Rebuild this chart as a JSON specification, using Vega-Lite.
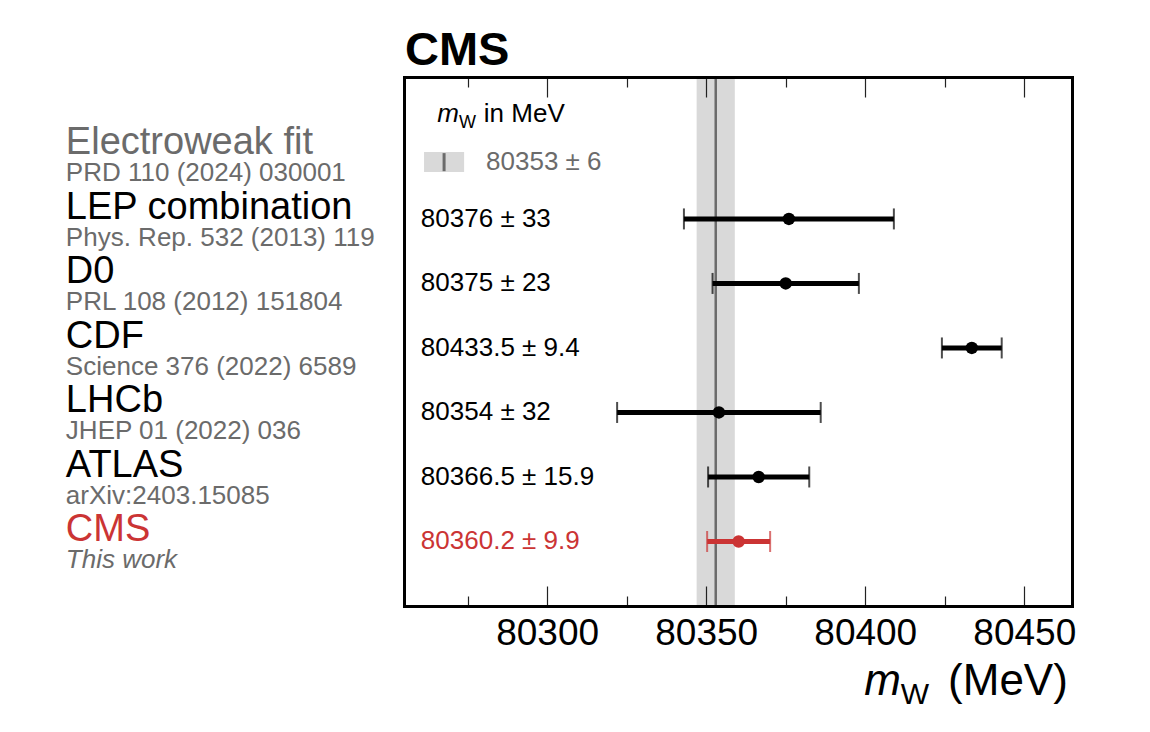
{
  "$schema": "https://vega.github.io/schema/vega-lite/v6.json",
  "width": 668,
  "height": 529,
  "autosize": "none",
  "padding": {"left": 404, "top": 77, "right": 78, "bottom": 126},
  "background": "white",
  "config": {
    "view": {"stroke": null},
    "font": "Liberation Sans",
    "text": {"font": "Liberation Sans"}
  },
  "datasets": {
    "rows": [
      {"experiment": "Electroweak fit", "reference": "PRD 110 (2024) 030001", "row": 0, "mw": 80353, "lo": 80347, "hi": 80359, "result": "80353 ± 6", "group": "ew"},
      {"experiment": "LEP combination", "reference": "Phys. Rep. 532 (2013) 119", "row": 1, "mw": 80376, "lo": 80343, "hi": 80409, "result": "80376 ± 33", "group": "other"},
      {"experiment": "D0", "reference": "PRL 108 (2012) 151804", "row": 2, "mw": 80375, "lo": 80352, "hi": 80398, "result": "80375 ± 23", "group": "other"},
      {"experiment": "CDF", "reference": "Science 376 (2022) 6589", "row": 3, "mw": 80433.5, "lo": 80424.1, "hi": 80442.9, "result": "80433.5 ± 9.4", "group": "other"},
      {"experiment": "LHCb", "reference": "JHEP 01 (2022) 036", "row": 4, "mw": 80354, "lo": 80322, "hi": 80386, "result": "80354 ± 32", "group": "other"},
      {"experiment": "ATLAS", "reference": "arXiv:2403.15085", "row": 5, "mw": 80366.5, "lo": 80350.6, "hi": 80382.4, "result": "80366.5 ± 15.9", "group": "other"},
      {"experiment": "CMS", "reference": "This work", "row": 6, "mw": 80360.2, "lo": 80350.3, "hi": 80370.1, "result": "80360.2 ± 9.9", "group": "cms"}
    ]
  },
  "data": {"name": "rows"},
  "resolve": {"axis": {"x": "independent", "y": "independent"}},
  "layer": [
    {
      "transform": [{"filter": "datum.group === 'ew'"}],
      "mark": {"type": "rect", "color": "#d9d9d9"},
      "encoding": {
        "x": {"field": "lo", "type": "quantitative", "axis": null,
              "scale": {"domain": [80255, 80465], "nice": false, "zero": false}},
        "x2": {"field": "hi"}
      }
    },
    {
      "transform": [{"filter": "datum.group === 'ew'"}],
      "mark": {"type": "rule", "color": "#6b6b6b", "strokeWidth": 2.5},
      "encoding": {
        "x": {"field": "mw", "type": "quantitative", "axis": null}
      }
    },
    {
      "transform": [{"filter": "datum.group !== 'ew'"}],
      "mark": {"type": "rule", "strokeWidth": 5},
      "encoding": {
        "x": {"field": "lo", "type": "quantitative",
              "axis": {"orient": "bottom", "title": null, "values": [80275, 80300, 80325, 80350, 80375, 80400, 80425, 80450],
                       "format": "d",
                       "labelExpr": "datum.value % 50 === 0 ? datum.label : ''",
                       "tickSize": {"condition": {"test": "datum.value % 50 === 0", "value": -20}, "value": -10},
                       "tickColor": "#222", "tickWidth": 1.2, "domainColor": "black", "domainWidth": 3, "domainCap": "square",
                       "labelFontSize": 37, "labelColor": "black", "labelPadding": 29, "grid": false, "zindex": 1, "labelFlush": false}},
        "x2": {"field": "hi"},
        "y": {"field": "row", "type": "quantitative",
              "scale": {"domain": [-1.2, 7], "reverse": true, "nice": false, "zero": false},
              "axis": {"orient": "left", "title": null, "labels": false, "ticks": false, "grid": false,
                       "domainColor": "black", "domainWidth": 3, "domainCap": "square", "zindex": 1}},
        "color": {"field": "group", "type": "nominal", "legend": null,
                  "scale": {"domain": ["ew", "other", "cms"], "range": ["#6b6b6b", "#000000", "#cb3434"]}}
      }
    },
    {
      "transform": [{"filter": "datum.group !== 'ew'"}],
      "mark": {"type": "tick", "orient": "vertical", "size": 21, "thickness": 2},
      "encoding": {
        "x": {"field": "lo", "type": "quantitative", "axis": null},
        "y": {"field": "row", "type": "quantitative", "axis": null},
        "color": {"field": "group", "type": "nominal", "legend": null}
      }
    },
    {
      "transform": [{"filter": "datum.group !== 'ew'"}],
      "mark": {"type": "tick", "orient": "vertical", "size": 21, "thickness": 2},
      "encoding": {
        "x": {"field": "hi", "type": "quantitative", "axis": null},
        "y": {"field": "row", "type": "quantitative", "axis": null},
        "color": {"field": "group", "type": "nominal", "legend": null}
      }
    },
    {
      "transform": [{"filter": "datum.group !== 'ew'"}],
      "mark": {"type": "point", "filled": true, "shape": "circle", "size": 155, "opacity": 1},
      "encoding": {
        "x": {"field": "mw", "type": "quantitative",
              "axis": {"orient": "top", "title": null, "labels": false, "values": [80275, 80300, 80325, 80350, 80375, 80400, 80425, 80450],
                       "tickSize": {"condition": {"test": "datum.value % 50 === 0", "value": -20}, "value": -10},
                       "tickColor": "#222", "tickWidth": 1.2, "domainColor": "black", "domainWidth": 3, "domainCap": "square",
                       "grid": false, "zindex": 1}},
        "y": {"field": "row", "type": "quantitative",
              "axis": {"orient": "right", "title": null, "labels": false, "ticks": false, "grid": false,
                       "domainColor": "black", "domainWidth": 3, "domainCap": "square", "zindex": 1}},
        "color": {"field": "group", "type": "nominal", "legend": null}
      }
    },
    {
      "transform": [{"filter": "datum.group !== 'ew'"}],
      "mark": {"type": "text", "align": "left", "baseline": "alphabetic", "fontSize": 26, "dy": 8},
      "encoding": {
        "x": {"datum": 80260.3, "type": "quantitative", "axis": null},
        "y": {"field": "row", "type": "quantitative", "axis": null},
        "text": {"field": "result"},
        "color": {"field": "group", "type": "nominal", "legend": null}
      }
    },
    {
      "transform": [{"filter": "datum.group === 'ew'"}],
      "mark": {"type": "rect", "color": "#d9d9d9"},
      "encoding": {
        "x": {"datum": 80261.3, "type": "quantitative", "axis": null},
        "x2": {"datum": 80273.9},
        "y": {"datum": -0.037, "type": "quantitative", "axis": null},
        "y2": {"datum": 0.273}
      }
    },
    {
      "transform": [{"filter": "datum.group === 'ew'"}],
      "mark": {"type": "rule", "color": "#6b6b6b", "strokeWidth": 3},
      "encoding": {
        "x": {"datum": 80267.6, "type": "quantitative", "axis": null},
        "y": {"datum": -0.02, "type": "quantitative", "axis": null},
        "y2": {"datum": 0.26}
      }
    },
    {
      "transform": [{"filter": "datum.group === 'ew'"}],
      "mark": {"type": "text", "align": "left", "baseline": "alphabetic", "fontSize": 26, "color": "#6b6b6b"},
      "encoding": {
        "x": {"datum": 80280.8, "type": "quantitative", "axis": null},
        "y": {"datum": 0.242, "type": "quantitative", "axis": null},
        "text": {"field": "result"}
      }
    },
    {
      "mark": {"type": "text", "align": "left", "baseline": "alphabetic", "fontSize": 38},
      "encoding": {
        "x": {"datum": 80148.7, "type": "quantitative", "axis": null},
        "y": {"field": "row", "type": "quantitative", "axis": null},
        "text": {"field": "experiment"},
        "color": {"field": "group", "type": "nominal", "legend": null}
      }
    },
    {
      "transform": [{"filter": "datum.group !== 'cms'"}],
      "mark": {"type": "text", "align": "left", "baseline": "alphabetic", "fontSize": 26, "dy": 27, "color": "#6b6b6b"},
      "encoding": {
        "x": {"datum": 80148.7, "type": "quantitative", "axis": null},
        "y": {"field": "row", "type": "quantitative", "axis": null},
        "text": {"field": "reference"}
      }
    },
    {
      "transform": [{"filter": "datum.group === 'cms'"}],
      "mark": {"type": "text", "align": "left", "baseline": "alphabetic", "fontSize": 26, "dy": 27, "color": "#6b6b6b", "fontStyle": "italic"},
      "encoding": {
        "x": {"datum": 80148.7, "type": "quantitative", "axis": null},
        "y": {"field": "row", "type": "quantitative", "axis": null},
        "text": {"field": "reference"}
      }
    },
    {
      "data": {"values": [{"t": "CMS"}]},
      "mark": {"type": "text", "align": "left", "baseline": "alphabetic", "fontSize": 47, "fontWeight": "bold", "color": "black"},
      "encoding": {
        "x": {"datum": 80255.3, "type": "quantitative", "axis": null},
        "y": {"datum": -1.386, "type": "quantitative", "axis": null},
        "text": {"field": "t"}
      }
    },
    {
      "data": {"values": [{"t": "m"}]},
      "mark": {"type": "text", "align": "right", "baseline": "alphabetic", "fontSize": 26, "fontStyle": "italic", "color": "black"},
      "encoding": {
        "x": {"datum": 80272.3, "type": "quantitative", "axis": null},
        "y": {"datum": -0.51, "type": "quantitative", "axis": null},
        "text": {"field": "t"}
      }
    },
    {
      "data": {"values": [{"t": "W"}]},
      "mark": {"type": "text", "align": "left", "baseline": "alphabetic", "fontSize": 18, "dy": 6, "color": "black"},
      "encoding": {
        "x": {"datum": 80272.3, "type": "quantitative", "axis": null},
        "y": {"datum": -0.51, "type": "quantitative", "axis": null},
        "text": {"field": "t"}
      }
    },
    {
      "data": {"values": [{"t": "in MeV"}]},
      "mark": {"type": "text", "align": "left", "baseline": "alphabetic", "fontSize": 26, "color": "black"},
      "encoding": {
        "x": {"datum": 80280.1, "type": "quantitative", "axis": null},
        "y": {"datum": -0.51, "type": "quantitative", "axis": null},
        "text": {"field": "t"}
      }
    },
    {
      "data": {"values": [{"t": "m"}]},
      "mark": {"type": "text", "align": "right", "baseline": "alphabetic", "fontSize": 44, "fontStyle": "italic", "color": "black"},
      "encoding": {
        "x": {"datum": 80411.2, "type": "quantitative", "axis": null},
        "y": {"datum": 8.38, "type": "quantitative", "axis": null},
        "text": {"field": "t"}
      }
    },
    {
      "data": {"values": [{"t": "W"}]},
      "mark": {"type": "text", "align": "left", "baseline": "alphabetic", "fontSize": 30, "dy": 9, "color": "black"},
      "encoding": {
        "x": {"datum": 80411.2, "type": "quantitative", "axis": null},
        "y": {"datum": 8.38, "type": "quantitative", "axis": null},
        "text": {"field": "t"}
      }
    },
    {
      "data": {"values": [{"t": "(MeV)"}]},
      "mark": {"type": "text", "align": "right", "baseline": "alphabetic", "fontSize": 44, "color": "black"},
      "encoding": {
        "x": {"datum": 80463.7, "type": "quantitative", "axis": null},
        "y": {"datum": 8.38, "type": "quantitative", "axis": null},
        "text": {"field": "t"}
      }
    }
  ]
}
